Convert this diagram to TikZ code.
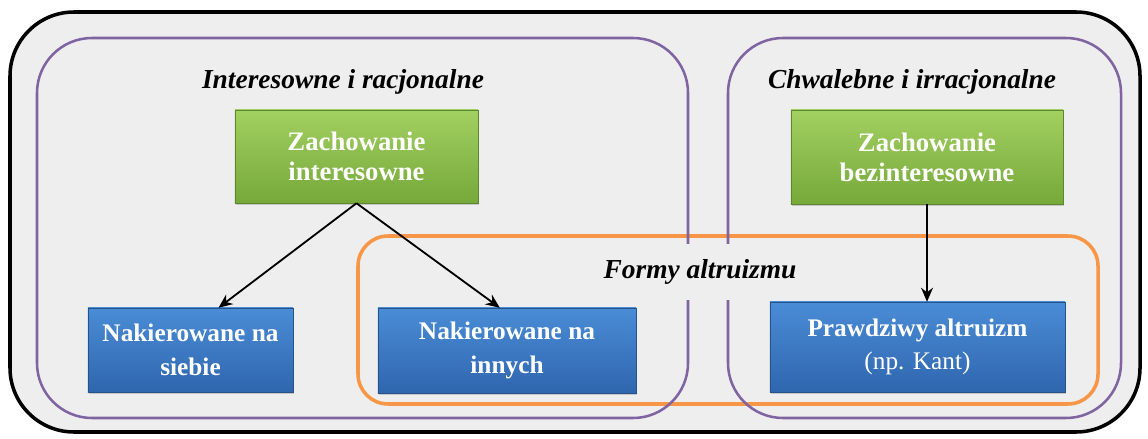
\documentclass[tikz,border=0pt]{standalone}
\usepackage{fontspec}
\setmainfont{Liberation Serif}
\usetikzlibrary{arrows.meta,shadows}

\definecolor{tlo}{HTML}{EEEEEE}
\definecolor{fiolet}{HTML}{8064A2}
\definecolor{pomarancz}{HTML}{F79646}
\definecolor{zielenA}{HTML}{A2D061}
\definecolor{zielenB}{HTML}{76A83A}
\definecolor{niebieskiA}{HTML}{4A8CD6}
\definecolor{niebieskiB}{HTML}{2F66AE}

\begin{document}
\begin{tikzpicture}[x=0.025cm, y=-0.025cm,
        grupa/.style={draw=fiolet, line width=1.8pt, rounded corners=1.375cm},
        tytul/.style={font=\fontsize{19.5}{23}\selectfont\bfseries\itshape},
        zbox/.style={rectangle, inner sep=0pt, top color=zielenA, bottom color=zielenB, draw=zielenB!80!black, line width=0.3pt,
            drop shadow={shadow xshift=0.6pt, shadow yshift=-1.2pt, opacity=0.35},
            text=white, align=center, font=\fontsize{19}{21.5}\selectfont\bfseries},
        nbox/.style={rectangle, inner sep=0pt, top color=niebieskiA, bottom color=niebieskiB, draw=niebieskiB!80!black, line width=0.3pt,
            drop shadow={shadow xshift=0.6pt, shadow yshift=-1.2pt, opacity=0.35},
            text=white, align=center, font=\fontsize{18}{24}\selectfont},
        strzalka/.style={-{Stealth[length=10pt, width=8.5pt]}, line width=1.3pt}
    ]
    \useasboundingbox (0,0) rectangle (1148,439);
    % tlo i ramki
    \draw[fill=tlo, line width=2.5pt, rounded corners=1.6cm] (10,12) rectangle (1140,432);
    \draw[pomarancz, line width=2.5pt, rounded corners=0.75cm] (358,236) rectangle (1098,404);
    \draw[grupa] (37,38) rectangle (688,418);
    \draw[grupa] (728,38) rectangle (1121,418);

    \node[tytul] (t1) at (343,82) {Interesowne i racjonalne};
    \node[tytul] (t2) at (912,82) {Chwalebne i irracjonalne};
    \node[tytul, fill=tlo, minimum height=1.4cm, inner xsep=2pt] (t3) at (700,272) {Formy altruizmu};

    \node[zbox, minimum width=6.075cm, minimum height=2.325cm] (zi) at (356.5,156.5) {Zachowanie\\interesowne};
    \node[zbox, minimum width=6.8cm, minimum height=2.35cm] (zb) at (927,157) {Zachowanie\\bezinteresowne};

    \node[nbox, minimum width=5.125cm, minimum height=2.1cm] (ns) at (190.5,350) {\textbf{Nakierowane na}\\\textbf{siebie}};
    \node[nbox, minimum width=6.45cm, minimum height=2.125cm] (ni) at (507,350.5) {\textbf{Nakierowane na}\\\textbf{innych}};
    \node[nbox, minimum width=7.375cm, minimum height=2.25cm] (pa) at (917.5,347) {\textbf{Prawdziwy altruizm}\\(np. Kant)};

    \draw[strzalka] (zi.south) -- ([xshift=0.7cm]ns.north);
    \draw[strzalka] (zi.south) -- ([xshift=-0.18cm]ni.north);
    \draw[strzalka] (zb.south) -- (zb.south |- pa.north);
\end{tikzpicture}
\end{document}
